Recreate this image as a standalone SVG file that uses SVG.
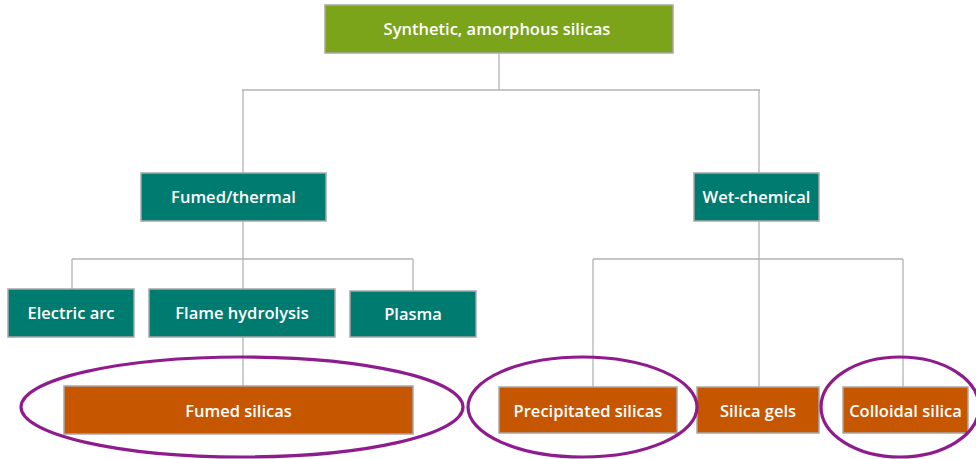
<svg xmlns="http://www.w3.org/2000/svg" width="976" height="459" viewBox="0 0 976 459">
<style>
.box{stroke:#a8a8a8;stroke-width:1.5}
.g{fill:#7ba41a}
.t{fill:#007b70}
.o{fill:#c65600}
.lbl{font-family:"Open Sans","Liberation Sans",sans-serif;font-weight:600;font-size:16.5px;fill:#ffffff;text-anchor:middle;dominant-baseline:central}
.c{stroke:#b4b4b4;stroke-width:1.3;fill:none}
.ring{fill:none;stroke:#8e1c8c;stroke-width:3.2}
</style>
<rect width="976" height="459" fill="#ffffff"/>
<g id="connectors">
<path class="c" d="M499 53V90M242 90H760M243 90V173M759 90V173"/>
<path class="c" d="M243 221V337M72 259H413M72 259V289M413 259V291M243 337V386"/>
<path class="c" d="M759 221V387M593 259H903M593 259V387M903 259V387"/>
</g>
<g id="n-synthetic"><rect class="box g" x="325" y="5" width="348" height="48"/><text class="lbl" x="497" y="28">Synthetic, amorphous silicas</text></g>
<g id="n-fumed-thermal"><rect class="box t" x="141" y="173" width="185" height="48"/><text class="lbl" x="233.5" y="196">Fumed/thermal</text></g>
<g id="n-wet-chemical"><rect class="box t" x="694" y="173" width="125" height="48"/><text class="lbl" x="756.5" y="196">Wet-chemical</text></g>
<g id="n-electric-arc"><rect class="box t" x="8" y="289" width="126" height="48"/><text class="lbl" x="71" y="312">Electric arc</text></g>
<g id="n-flame-hydrolysis"><rect class="box t" x="149" y="289" width="186" height="48"/><text class="lbl" x="242" y="312">Flame hydrolysis</text></g>
<g id="n-plasma"><rect class="box t" x="350" y="291" width="126" height="46"/><text class="lbl" x="413" y="313">Plasma</text></g>
<g id="n-fumed-silicas"><rect class="box o" x="64" y="386" width="349" height="48"/><text class="lbl" x="238.5" y="410">Fumed silicas</text></g>
<g id="n-precipitated"><rect class="box o" x="499" y="387" width="178" height="46"/><text class="lbl" x="588" y="410">Precipitated silicas</text></g>
<g id="n-silica-gels"><rect class="box o" x="697" y="387" width="122" height="46"/><text class="lbl" x="758" y="410">Silica gels</text></g>
<g id="n-colloidal"><rect class="box o" x="843" y="387" width="125" height="46"/><text class="lbl" x="905.5" y="410">Colloidal silica</text></g>
<g id="highlights">
<ellipse class="ring" cx="242" cy="407" rx="221" ry="50"/>
<ellipse class="ring" cx="582.5" cy="407" rx="114.5" ry="50"/>
<ellipse class="ring" cx="900" cy="407" rx="79" ry="50"/>
</g>
</svg>
